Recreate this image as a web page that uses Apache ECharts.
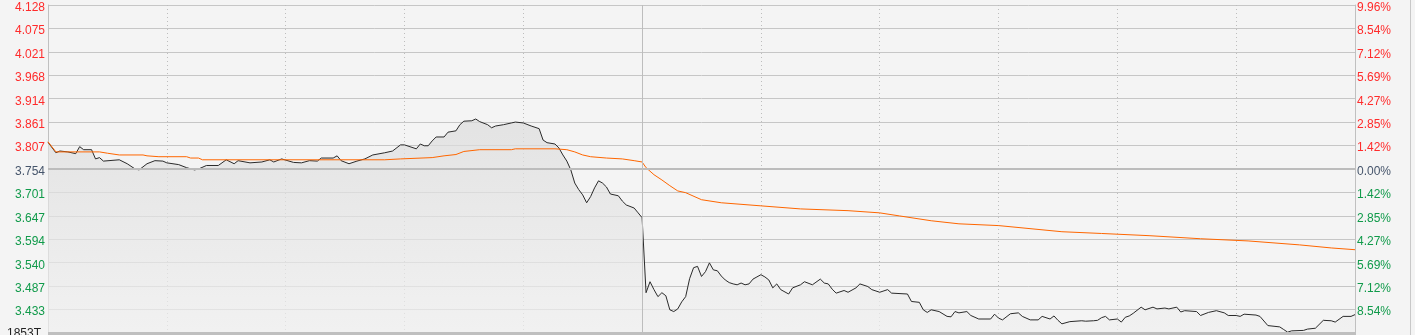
<!DOCTYPE html>
<html>
<head>
<meta charset="utf-8">
<script src="https://cdn.jsdelivr.net/npm/echarts@6/dist/echarts.min.js"></script>
<style>
html,body{margin:0;padding:0;background:#f4f4f4;}
#c{width:1415px;height:335px;}
</style>
</head>
<body>
<div id="c"></div>
<script>
// ---- data ----
const preClose = 3.754;
const leftLabels = ['','3.433','3.487','3.540','3.594','3.647','3.701','3.754','3.807','3.861','3.914','3.968','4.021','4.075','4.128'];
const rightLabels = ['','8.54%','7.12%','5.69%','4.27%','2.85%','1.42%','0.00%','1.42%','2.85%','4.27%','5.69%','7.12%','8.54%','9.96%'];
const bottomVolLabel = '1853T';
// minute index (0 = 9:30, 150 = 12:00, 330 = 16:00)
const priceMinutes = [0,2,3,5,7,8,9,11,12,13,14,18,20,22,23,25,27,29,30,33,35,37,38,40,43,45,47,48,51,54,56,57,59,62,64,66,68,69,72,73,74,76,78,80,82,85,87,89,90,93,94,95,96,97,98,100,101,103,104,105,107,108,109,111,112,113,115,117,118,120,122,124,125,126,128,129,130,131,132,133,134,135,136,137,138,139,140,141,142,144,145,146,148,149,150,
151,152,153,154,155,156,157,158,159,160,161,162,163,164,165,166,167,168,169,170,171,172,173,174,175,176,177,178,179,180,181,182,183,184,185,187,188,190,191,193,195,196,197,198,199,201,202,204,205,207,208,210,212,213,217,218,220,221,222,223,225,227,228,229,230,232,233,235,238,239,240,241,243,245,246,248,250,251,253,254,255,256,258,261,262,264,265,266,267,268,270,271,272,273,274,276,277,279,280,282,283,285,286,287,290,291,293,295,297,298,300,301,302,305,306,308,311,312,313,314,317,318,320,322,324,325,327,329,330];
const prices = [3.815,3.791,3.795,3.793,3.789,3.805,3.798,3.798,3.777,3.780,3.772,3.775,3.766,3.754,3.752,3.766,3.773,3.772,3.768,3.764,3.757,3.752,3.754,3.762,3.762,3.775,3.766,3.773,3.768,3.770,3.775,3.770,3.777,3.769,3.768,3.773,3.772,3.779,3.779,3.784,3.773,3.766,3.772,3.777,3.786,3.791,3.795,3.809,3.809,3.800,3.811,3.807,3.807,3.818,3.827,3.827,3.838,3.841,3.855,3.863,3.864,3.868,3.862,3.855,3.848,3.852,3.855,3.859,3.861,3.859,3.852,3.846,3.820,3.814,3.811,3.802,3.786,3.772,3.752,3.722,3.707,3.695,3.677,3.691,3.711,3.727,3.722,3.713,3.697,3.693,3.681,3.672,3.665,3.654,3.643,
3.472,3.497,3.479,3.463,3.472,3.465,3.433,3.429,3.435,3.451,3.463,3.504,3.529,3.532,3.509,3.520,3.540,3.524,3.522,3.510,3.501,3.495,3.492,3.490,3.494,3.490,3.492,3.503,3.508,3.513,3.508,3.501,3.483,3.492,3.479,3.469,3.483,3.490,3.497,3.490,3.503,3.494,3.492,3.480,3.471,3.477,3.473,3.483,3.492,3.486,3.479,3.473,3.479,3.471,3.469,3.452,3.450,3.433,3.427,3.433,3.429,3.418,3.417,3.429,3.426,3.429,3.420,3.412,3.412,3.423,3.414,3.410,3.424,3.426,3.418,3.410,3.410,3.418,3.412,3.419,3.409,3.401,3.406,3.408,3.407,3.408,3.409,3.415,3.418,3.410,3.412,3.405,3.416,3.419,3.425,3.439,3.433,3.439,3.435,3.437,3.435,3.439,3.428,3.431,3.429,3.420,3.427,3.431,3.426,3.420,3.420,3.418,3.423,3.421,3.418,3.397,3.394,3.388,3.382,3.385,3.386,3.389,3.391,3.409,3.408,3.405,3.418,3.418,3.422];
const avgMinutes = [0,2,13,15,18,24,25,28,35,36,38,39,85,89,97,100,103,105,109,117,118,128,131,133,135,137,141,145,148,150,151,153,155,157,159,161,165,170,180,190,202,210,215,223,230,240,256,266,278,291,303,316,324,330];
const avgPrices = [3.816,3.793,3.793,3.790,3.786,3.786,3.784,3.782,3.782,3.779,3.779,3.775,3.775,3.777,3.780,3.784,3.787,3.794,3.798,3.798,3.800,3.800,3.798,3.793,3.786,3.782,3.779,3.777,3.773,3.770,3.757,3.741,3.729,3.716,3.704,3.700,3.684,3.677,3.670,3.663,3.659,3.654,3.647,3.636,3.629,3.625,3.611,3.607,3.602,3.595,3.590,3.581,3.574,3.570];

// ---- chart ----
const yStep = 9.96 / 7;
const yMin = -7 * yStep, yMax = 7 * yStep;
const toPct = p => (p - preClose) / preClose * 100;
const priceData = priceMinutes.map((m, i) => [m, toPct(prices[i])]);
const avgData = avgMinutes.map((m, i) => [m, toPct(avgPrices[i])]);
const idx = v => Math.round((v - yMin) / yStep);
const labelColor = v => { const k = idx(v); return k > 7 ? '#ff2b2b' : (k === 7 ? '#46556b' : '#109a4a'); };
const font = "'Liberation Sans', Arial, sans-serif";

const chart = echarts.init(document.getElementById('c'), null, {renderer: 'canvas'});
chart.setOption({
  animation: false,
  backgroundColor: '#f4f4f4',
  grid: {left: 48, right: 60, top: 5, bottom: 2},
  xAxis: {
    type: 'value', min: 0, max: 330, interval: 30,
    axisLine: {show: false}, axisTick: {show: false}, axisLabel: {show: false},
    splitLine: {show: true, lineStyle: {color: '#bdbdbd', width: 1, type: [1, 3]}}
  },
  yAxis: [{
    type: 'value', min: yMin, max: yMax, interval: yStep, position: 'left',
    axisLine: {show: true, lineStyle: {color: '#c0c0c0'}}, axisTick: {show: false},
    splitLine: {show: true, lineStyle: {color: '#c6c6c6', width: 1}},
    axisLabel: {
      margin: 3, fontSize: 12, fontFamily: font, verticalAlign: 'top', lineHeight: 5,
      formatter: v => leftLabels[idx(v)], color: labelColor
    }
  }, {
    type: 'value', min: yMin, max: yMax, interval: yStep, position: 'right',
    axisLine: {show: true, lineStyle: {color: '#c0c0c0'}}, axisTick: {show: false},
    splitLine: {show: false},
    axisLabel: {
      margin: 2, fontSize: 12, fontFamily: font, verticalAlign: 'top', lineHeight: 5,
      formatter: v => rightLabels[idx(v)], color: labelColor
    }
  }],
  series: [{
    type: 'line', data: priceData, showSymbol: false, silent: true, z: 3,
    lineStyle: {color: '#2a2a2a', width: 1},
    areaStyle: {origin: 'start', color: new echarts.graphic.LinearGradient(0, 0, 0, 1, [
      {offset: 0, color: '#dcdcdc'}, {offset: 1, color: '#f0f0f0'}])},
    markLine: {
      silent: true, symbol: 'none', label: {show: false},
      data: [
        {xAxis: 150, lineStyle: {color: '#bdbdbd', width: 1, type: 'solid'}},
        {yAxis: 0, lineStyle: {color: '#bcbcbc', width: 2, type: 'solid'}}
      ]
    }
  }, {
    type: 'line', data: avgData, showSymbol: false, silent: true, z: 4,
    lineStyle: {color: '#ff6600', width: 1}
  }],
  graphic: [
    {type: 'rect', left: 48, top: 332, shape: {width: 1308, height: 3}, style: {fill: '#bfbfbf'}, z: 10},
    {type: 'line', shape: {x1: 1410.5, y1: 0, x2: 1410.5, y2: 335}, style: {stroke: '#c8c8c8', lineWidth: 1}, z: 10},
    {type: 'text', left: 7, top: 328, style: {text: bottomVolLabel, fill: '#222', font: "12px 'Liberation Sans', Arial"}, z: 10}
  ]
});
</script>
</body>
</html>
